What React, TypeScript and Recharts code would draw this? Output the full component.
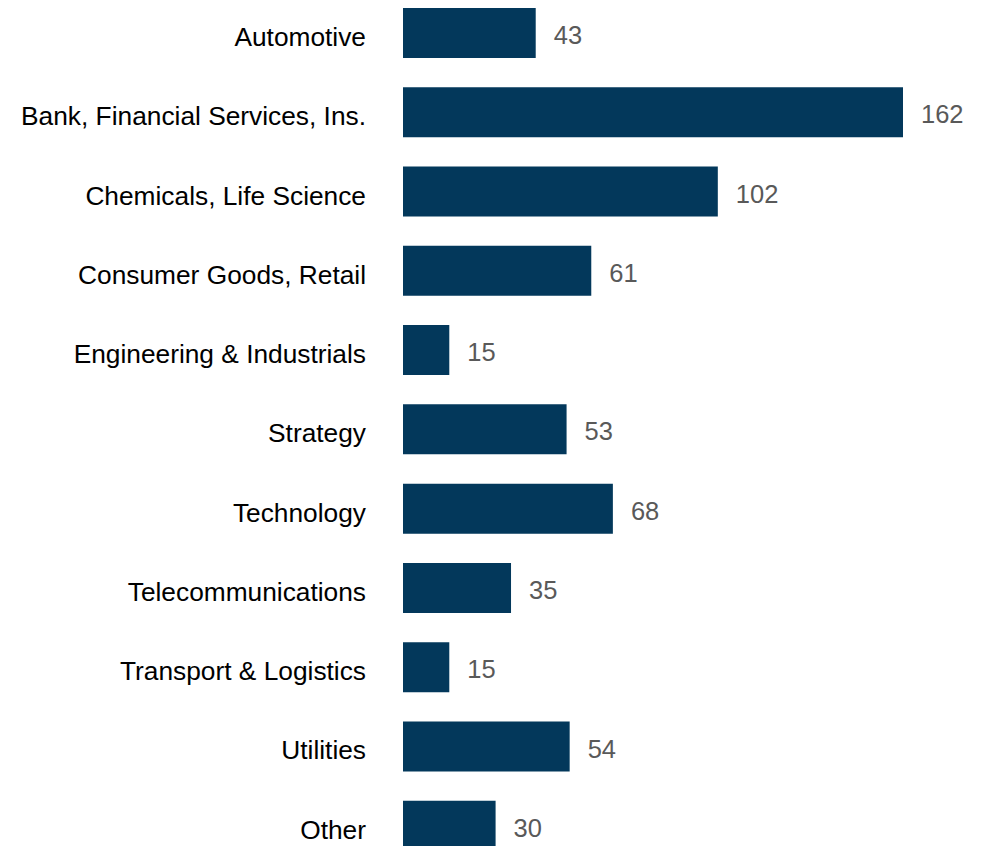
import { BarChart, Bar, XAxis, YAxis, LabelList } from 'recharts';

const industries = [
  'Automotive',
  'Bank, Financial Services, Ins.',
  'Chemicals, Life Science',
  'Consumer Goods, Retail',
  'Engineering & Industrials',
  'Strategy',
  'Technology',
  'Telecommunications',
  'Transport & Logistics',
  'Utilities',
  'Other',
];

const counts = [43, 162, 102, 61, 15, 53, 68, 35, 15, 54, 30];

const data = industries.map((name, i) => ({ name, count: counts[i] }));

const FONT = '"Liberation Sans", Arial, sans-serif';

export default function App() {
  return (
    // chart starts a little above the page so the rows line up with the source
    <div style={{ margin: '-15px 0 0 -8px', width: 981, height: 872 }}>
      <BarChart
        width={981}
        height={872}
        data={data}
        layout="vertical"
        margin={{ top: 0, right: 78, bottom: 0, left: 0 }}
        barSize={50}
      >
        <XAxis type="number" domain={[0, 162]} hide />
        <YAxis
          type="category"
          dataKey="name"
          width={403}
          axisLine={false}
          tickLine={false}
          tickSize={0}
          tickMargin={37}
          interval={0}
          tick={{ fontSize: 26.3, fill: '#000000', fontFamily: FONT, dy: 4 }}
        />
        <Bar dataKey="count" fill="#03385B" isAnimationActive={false}>
          <LabelList
            dataKey="count"
            position="right"
            offset={18}
            dy={2}
            style={{ fontSize: 25.5, fill: '#595959', fontFamily: FONT }}
          />
        </Bar>
      </BarChart>
    </div>
  );
}
